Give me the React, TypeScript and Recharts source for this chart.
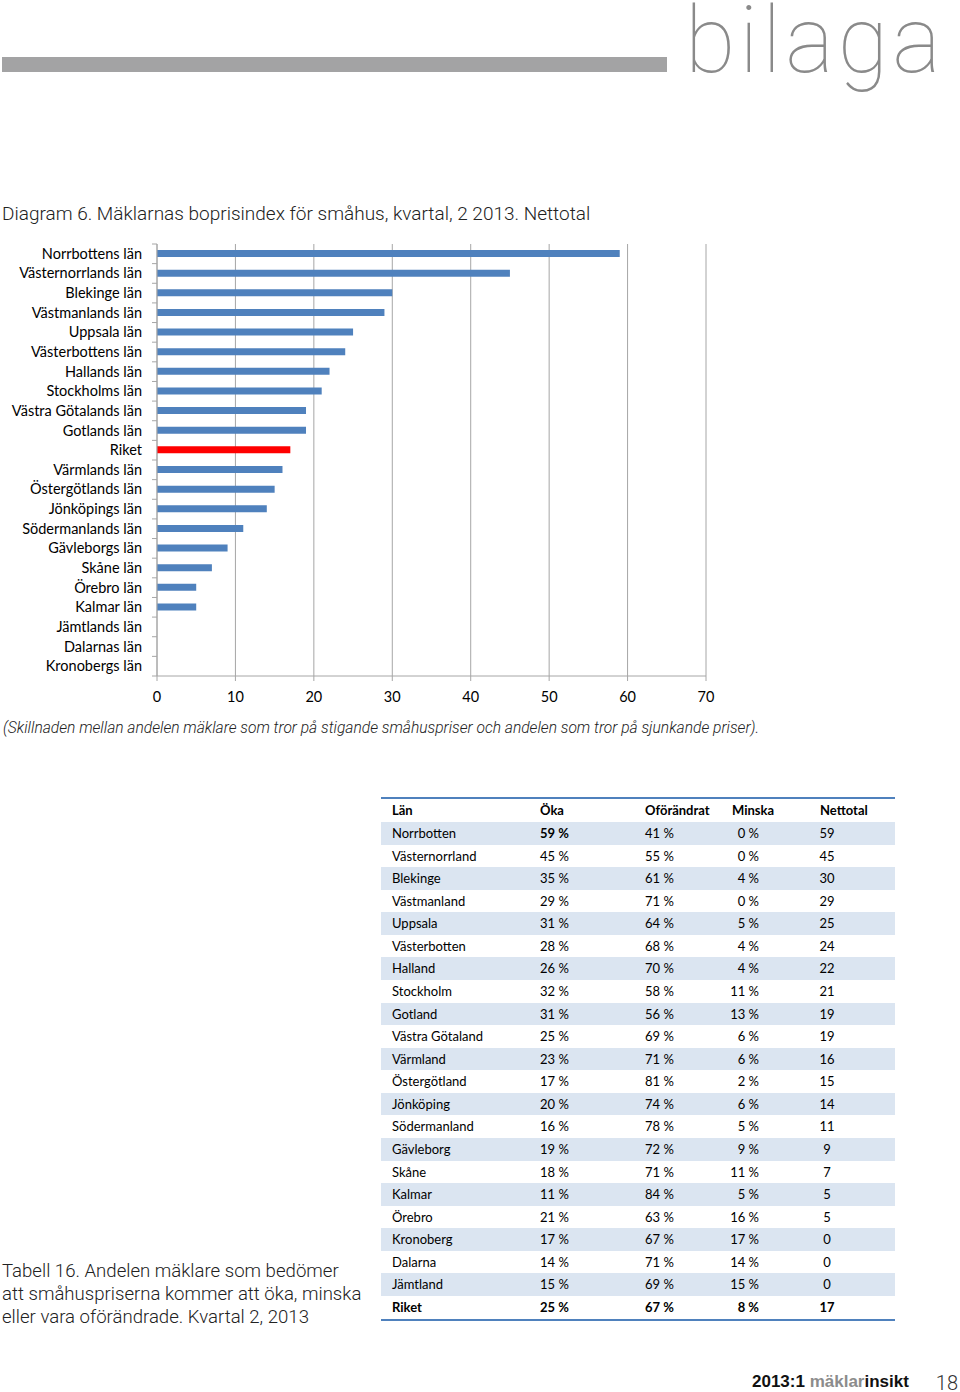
import React from 'react';
import { BarChart, Bar, XAxis, YAxis, CartesianGrid, Cell } from 'recharts';

// diagram 6 - nettotal per län
const lanNames = [
    'Norrbottens län', 'Västernorrlands län', 'Blekinge län', 'Västmanlands län', 'Uppsala län',
    'Västerbottens län', 'Hallands län', 'Stockholms län', 'Västra Götalands län', 'Gotlands län',
    'Riket', 'Värmlands län', 'Östergötlands län', 'Jönköpings län', 'Södermanlands län',
    'Gävleborgs län', 'Skåne län', 'Örebro län', 'Kalmar län', 'Jämtlands län', 'Dalarnas län',
    'Kronobergs län',
];
const nettoValues = [59, 45, 30, 29, 25, 24, 22, 21, 19, 19, 17, 16, 15, 14, 11, 9, 7, 5, 5, 0, 0, 0];
const xTicks = [0, 10, 20, 30, 40, 50, 60, 70];

// tabell 16
const tabLan = [
    'Norrbotten', 'Västernorrland', 'Blekinge', 'Västmanland', 'Uppsala', 'Västerbotten', 'Halland',
    'Stockholm', 'Gotland', 'Västra Götaland', 'Värmland', 'Östergötland', 'Jönköping', 'Södermanland',
    'Gävleborg', 'Skåne', 'Kalmar', 'Örebro', 'Kronoberg', 'Dalarna', 'Jämtland', 'Riket',
];
const tabOka = [59, 45, 35, 29, 31, 28, 26, 32, 31, 25, 23, 17, 20, 16, 19, 18, 11, 21, 17, 14, 15, 25];
const tabOforandrat = [41, 55, 61, 71, 64, 68, 70, 58, 56, 69, 71, 81, 74, 78, 72, 71, 84, 63, 67, 71, 69, 67];
const tabMinska = [0, 0, 4, 0, 5, 4, 4, 11, 13, 6, 6, 2, 6, 5, 9, 11, 5, 16, 17, 14, 15, 8];
const tabNetto = [59, 45, 30, 29, 25, 24, 22, 21, 19, 19, 16, 15, 14, 11, 9, 7, 5, 5, 0, 0, 0, 17];

const BLUE = '#4f81bd';
const GRID = '#a6a6a6';
const TXT_FONT = 'Lato, "Open Sans", sans-serif';
const HEAD_FONT = 'Roboto, "Liberation Sans", sans-serif';

const chartData = lanNames.map((name, i) => ({ name, value: nettoValues[i] }));

const PLOT_TOP = 14;
const PLOT_H = 432;
const BAND = PLOT_H / lanNames.length;

const LanTick = (props: any) => {
    const { y, payload, index } = props;
    return (
        <g>
            <text x={142} y={y} dy={5} textAnchor="end" fontSize={14.5} fontFamily={TXT_FONT} fill="#000">
                {payload.value}
            </text>
            <line x1={152} x2={157} y1={y - BAND / 2} y2={y - BAND / 2} stroke={GRID} />
            {index === lanNames.length - 1 && (
                <line x1={152} x2={157} y1={y + BAND / 2} y2={y + BAND / 2} stroke={GRID} />
            )}
        </g>
    );
};

const abs = (left: number, top: number, extra: React.CSSProperties = {}): React.CSSProperties => ({
    position: 'absolute', left, top, margin: 0, whiteSpace: 'nowrap', ...extra,
});

const colStyle: Record<string, React.CSSProperties> = {
    lan: { position: 'absolute', left: 11 },
    oka: { position: 'absolute', left: 159 },
    ofo: { position: 'absolute', left: 264 },
    min: { position: 'absolute', right: 136, textAlign: 'right' },
    net: { position: 'absolute', left: 426, width: 40, textAlign: 'center' },
};

const ROW_H = 22.57;

const App: React.FC = () => {
    return (
        <div style={{ position: 'absolute', left: 0, top: 0, width: 960, height: 1392, background: '#fff' }}>
            {/* sidhuvud */}
            <div style={abs(2, 57, { width: 665, height: 15, background: '#a3a3a4' })} />
            <svg style={abs(680, 0)} width={275} height={100}>
                <text x={5} y={72} fontFamily={HEAD_FONT} fontWeight={100} fontSize={92} letterSpacing={4} fill="#8a8a8a">
                    bilaga
                </text>
            </svg>

            <div style={abs(2, 203, { fontFamily: HEAD_FONT, fontWeight: 300, fontSize: 19, lineHeight: '22px', color: '#222' })}>
                Diagram 6. Mäklarnas boprisindex för småhus, kvartal, 2 2013. Nettotal
            </div>

            <div style={abs(0, 230)}>
                <BarChart
                    width={730}
                    height={480}
                    data={chartData}
                    layout="vertical"
                    margin={{ top: PLOT_TOP, right: 24, bottom: 4, left: 0 }}
                >
                    <CartesianGrid horizontal={false} stroke={GRID} />
                    <XAxis
                        type="number"
                        domain={[0, 70]}
                        ticks={xTicks}
                        interval={0}
                        height={30}
                        stroke={GRID}
                        tickSize={5}
                        tickMargin={11}
                        tick={{ fill: '#000', fontSize: 14.5, fontFamily: TXT_FONT }}
                    />
                    <YAxis
                        type="category"
                        dataKey="name"
                        width={157}
                        interval={0}
                        stroke={GRID}
                        tickLine={false}
                        tick={<LanTick />}
                    />
                    <Bar dataKey="value" barSize={7} isAnimationActive={false}>
                        {chartData.map((d, i) => (
                            <Cell key={`c-${i}`} fill={d.name === 'Riket' ? '#ff0000' : BLUE} />
                        ))}
                    </Bar>
                </BarChart>
            </div>

            <div style={abs(3, 719, { fontFamily: HEAD_FONT, fontWeight: 300, fontStyle: 'italic', fontSize: 15.6, lineHeight: '18px', color: '#222' })}>
                (Skillnaden mellan andelen mäklare som tror på stigande småhuspriser och andelen som tror på sjunkande priser).
            </div>

            {/* tabell */}
            <div style={abs(381, 797, { width: 514, height: 526, fontFamily: TXT_FONT, fontSize: 13, color: '#000' })}>
                <div style={{ position: 'absolute', left: 0, top: 0, width: 514, height: 2, background: BLUE }} />
                <div style={{ position: 'absolute', left: 0, top: 2, width: 514, height: 23, lineHeight: '23px', fontWeight: 700 }}>
                    <span style={colStyle.lan}>Län</span>
                    <span style={colStyle.oka}>Öka</span>
                    <span style={colStyle.ofo}>Oförändrat</span>
                    <span style={{ position: 'absolute', left: 351 }}>Minska</span>
                    <span style={{ position: 'absolute', left: 439 }}>Nettotal</span>
                </div>
                {tabLan.map((lan, i) => {
                    const last = i === tabLan.length - 1;
                    return (
                        <div
                            key={lan}
                            style={{
                                position: 'absolute', left: 0, top: 25 + i * ROW_H, width: 514, height: ROW_H,
                                lineHeight: `${ROW_H}px`, background: i % 2 === 0 ? '#dbe5f1' : '#fff',
                                fontWeight: last ? 700 : 400,
                            }}
                        >
                            <span style={colStyle.lan}>{lan}</span>
                            <span style={{ ...colStyle.oka, fontWeight: i === 0 || last ? 700 : 400 }}>{tabOka[i]} %</span>
                            <span style={colStyle.ofo}>{tabOforandrat[i]} %</span>
                            <span style={colStyle.min}>{tabMinska[i]} %</span>
                            <span style={colStyle.net}>{tabNetto[i]}</span>
                        </div>
                    );
                })}
                <div style={{ position: 'absolute', left: 0, top: 25 + tabLan.length * ROW_H, width: 514, height: 2, background: BLUE }} />
            </div>

            <div style={abs(2, 1260, { fontFamily: HEAD_FONT, fontWeight: 300, fontSize: 18.6, lineHeight: '23px', color: '#222' })}>
                Tabell 16. Andelen mäklare som bedömer<br />
                att småhuspriserna kommer att öka, minska<br />
                eller vara oförändrade. Kvartal 2, 2013
            </div>

            {/* sidfot */}
            <div style={abs(752, 1372, { fontFamily: '"Liberation Sans", Arial, sans-serif', fontWeight: 700, fontSize: 17, lineHeight: '20px', color: '#111' })}>
                2013:1 <span style={{ color: '#8c8c8c' }}>mäklar</span>insikt
            </div>
            <div style={abs(926, 1374, { width: 32, textAlign: 'right', fontFamily: HEAD_FONT, fontWeight: 300, fontSize: 20, lineHeight: '18px', color: '#333' })}>
                18
            </div>
        </div>
    );
};

export default App;
